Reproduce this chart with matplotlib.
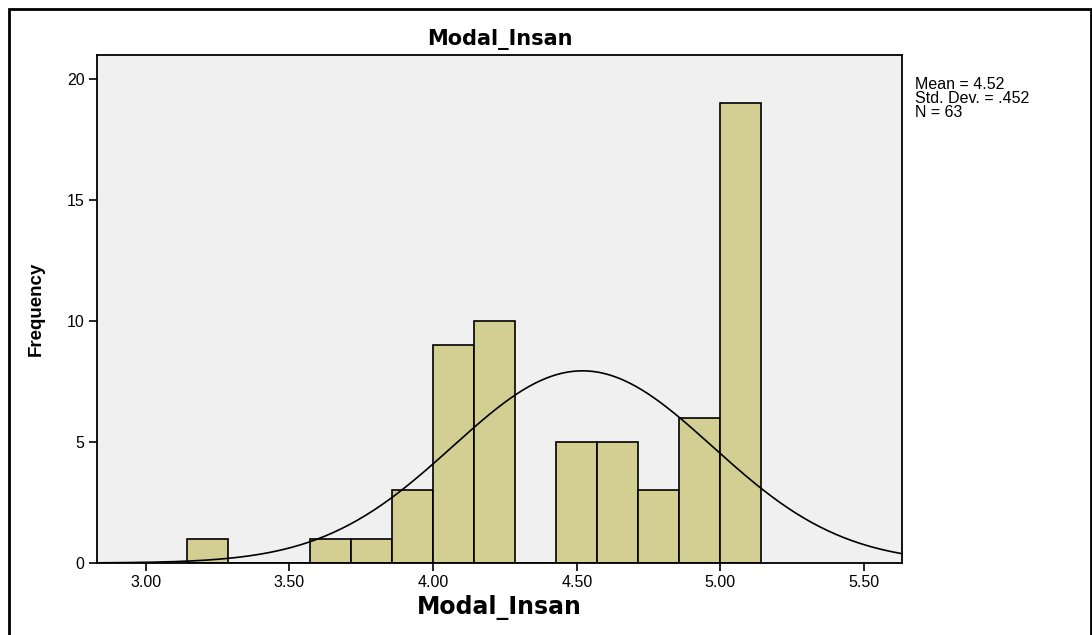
import matplotlib

matplotlib.use("Agg")
import matplotlib.pyplot as plt
import numpy as np
from matplotlib.patches import Rectangle

plt.rcParams["font.family"] = ["Liberation Sans", "DejaVu Sans"]

# Histogram of Modal_Insan (SPSS style), bin width 1/7
bin_edges = [3.0 + k / 7 for k in range(1, 16)]
counts = [1, 0, 0, 1, 1, 3, 9, 10, 0, 5, 5, 3, 6, 19]
x_ticks = [3.0, 3.5, 4.0, 4.5, 5.0, 5.5]
x_tick_labels = ["3.00", "3.50", "4.00", "4.50", "5.00", "5.50"]
y_ticks = [0, 5, 10, 15, 20]
mean, sd, n = 4.52, 0.452, 63

BAR = "#d3cf93"
PLOT_BG = "#f0f0f0"

fig = plt.figure(figsize=(10.92, 6.35), dpi=100)
fig.patch.set_facecolor("white")
ax = fig.add_axes([0.0888, 0.1134, 0.7372, 0.80])
ax.set_facecolor(PLOT_BG)

widths = np.diff(bin_edges)
ax.bar(bin_edges[:-1], counts, width=widths, align="edge", color=BAR,
       edgecolor="black", linewidth=1.2, zorder=2)

# normal curve scaled to counts
bw = widths[0]
xs = np.linspace(2.83, 5.632, 400)
ys = n * bw / (sd * np.sqrt(2 * np.pi)) * np.exp(-0.5 * ((xs - mean) / sd) ** 2)
ax.plot(xs, ys, color="black", linewidth=1.2, zorder=3)

ax.set_xlim(2.83, 5.632)
ax.set_ylim(0, 21.0)
ax.set_xticks(x_ticks)
ax.set_xticklabels(x_tick_labels)
ax.set_yticks(y_ticks)
ax.tick_params(direction="out", length=6, width=1.2, labelsize=11.5,
               colors="black", pad=3)
for s in ax.spines.values():
    s.set_linewidth(1.3)

ax.set_title("Modal_Insan", fontsize=15, fontweight="bold",
             family="DejaVu Sans", pad=7)
ax.set_xlabel("Modal_Insan", fontsize=17, fontweight="bold",
              family="DejaVu Sans", labelpad=3)
ax.set_ylabel("Frequency", fontsize=13.5, fontweight="bold", labelpad=16)

fig.text(0.838, 0.878, "Mean = 4.52\nStd. Dev. = .452\nN = 63",
         fontsize=11.5, va="top", ha="left", linespacing=0.88)

# outer frame around the whole chart
fig.patches.append(Rectangle((9 / 1092, -0.05), 1082 / 1092, 0.05 + 626 / 635,
                             transform=fig.transFigure, fill=False,
                             edgecolor="black", linewidth=2))

fig.savefig("out.png", dpi=100)
